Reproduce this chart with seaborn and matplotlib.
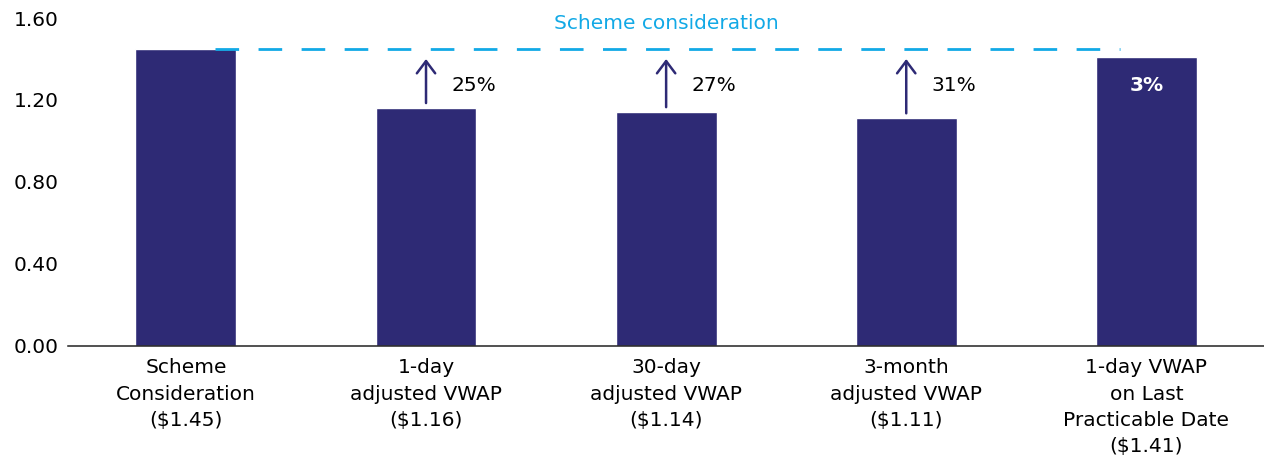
import matplotlib
matplotlib.use("Agg")
import pandas as pd
import seaborn as sns
import matplotlib.pyplot as plt

# Dados do gráfico
categorias = ["Scheme\nConsideration\n($1.45)",
              "1-day\nadjusted VWAP\n($1.16)",
              "30-day\nadjusted VWAP\n($1.14)",
              "3-month\nadjusted VWAP\n($1.11)",
              "1-day VWAP\non Last\nPracticable Date\n($1.41)"]
valores = [1.45, 1.16, 1.14, 1.11, 1.41]
premios = ["", "25%", "27%", "31%", "3%"]
consideracao = 1.45
yticks = [0.0, 0.4, 0.8, 1.2, 1.6]

cor_barra = "#2E2A75"
cor_linha = "#12A9E6"

sns.set_style("white")
plt.rcParams['font.family'] = ['DejaVu Sans']

df = pd.DataFrame({"cat": categorias, "val": valores})

fig = plt.figure(figsize=(12.64, 4.57), dpi=100)
ax = fig.add_axes([0.054, 0.243, 0.946, 0.7176])
sns.barplot(x="cat", y="val", data=df, color=cor_barra, width=0.42, saturation=1, ax=ax)

# linha tracejada da consideração
ax.plot([0.12, 3.89], [consideracao, consideracao], ls=(0, (8.5, 7)), color=cor_linha, lw=2)
ax.text(2, 1.575, "Scheme consideration", color=cor_linha, fontsize=14.5, ha="center", va="center")

# setas e percentuais
for i in range(1, 4):
    ax.annotate("", xy=(i, 1.40), xytext=(i, valores[i] + 0.025),
                arrowprops=dict(arrowstyle="->,head_width=0.3,head_length=0.4", color=cor_barra,
                                lw=1.8, mutation_scale=22, shrinkA=0, shrinkB=0))
    ax.text(i + 0.105, 1.273, premios[i], fontsize=14.5, ha="left", va="center", color="black")
ax.text(4, 1.273, premios[4], fontsize=14.5, ha="center", va="center", color="white", fontweight="bold")

ax.set_xlim(-0.49, 4.49)
ax.set_ylim(0, 1.6)
ax.set_yticks(yticks)
ax.set_yticklabels([f"{v:.2f}" for v in yticks])
ax.set_xlabel("")
ax.set_ylabel("")
ax.tick_params(axis="both", length=0, labelsize=14.5, colors="black")
ax.tick_params(axis="y", pad=7)
ax.tick_params(axis="x", pad=9)
for lab in ax.get_xticklabels():
    lab.set_linespacing(1.48)
sns.despine(ax=ax, left=True, top=True, right=True)
ax.spines["bottom"].set_color("#222222")
ax.spines["bottom"].set_linewidth(1.1)

plt.savefig("out.png", dpi=100)
